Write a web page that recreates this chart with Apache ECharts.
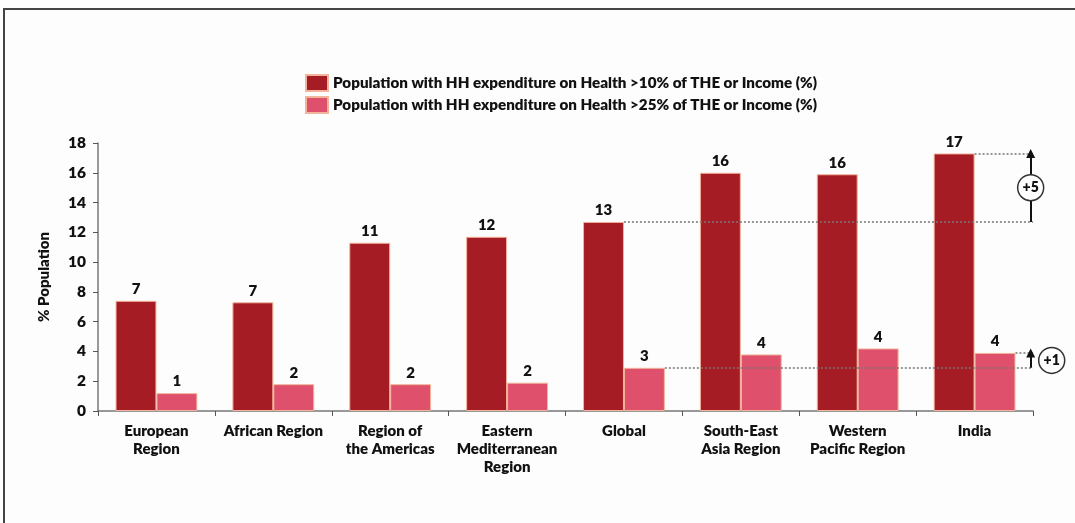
<!DOCTYPE html>
<html>
<head>
<meta charset="utf-8">
<script src="https://cdn.jsdelivr.net/npm/echarts@6/dist/echarts.min.js"></script>
<style>
  html, body { margin: 0; padding: 0; background: #fdfdfd; }
  #frame { position: absolute; left: 3px; top: 8px; width: 1072px; height: 515px;
           border-left: 2px solid #444; border-top: 2px solid #444; box-sizing: border-box; }
  #chart { position: absolute; left: 0; top: 0; width: 1075px; height: 523px; }
</style>
</head>
<body>
<div id="frame"></div>
<div id="chart"></div>
<script>
const categories = [
  'European\nRegion', 'African Region', 'Region of\nthe Americas', 'Eastern\nMediterranean\nRegion',
  'Global', 'South-East\nAsia Region', 'Western\nPacific Region', 'India'
];
const seriesNames = [
  'Population with HH expenditure on Health >10% of THE or Income (%)',
  'Population with HH expenditure on Health >25% of THE or Income (%)'
];
const above10 = [7.4, 7.3, 11.3, 11.7, 12.7, 16.0, 15.9, 17.3];
const above25 = [1.2, 1.8, 1.8, 1.9, 2.9, 3.8, 4.2, 3.9];
const yTicks = [0, 2, 4, 6, 8, 10, 12, 14, 16, 18];

const FONT = 'Lato';
const W = 800;
const gIdx = categories.indexOf('Global');
const iIdx = categories.indexOf('India');
const n = categories.length;
const half = 0.35; // bar width in category units

const diffHigh = Math.round(above10[iIdx] - above10[gIdx]);
const diffLow = Math.round(above25[iIdx] - above25[gIdx]);
const arrowX = n - 0.02;

const dotted = { type: [2, 2], color: '#777', width: 1.5 };
const solid = { type: 'solid', color: '#111', width: 2 };

function seg(x1, y1, x2, y2, style, endSym) {
  return [
    { coord: [x1, y1], symbol: 'none', lineStyle: style },
    { coord: [x2, y2], symbol: endSym || 'none' }
  ];
}

const chart = echarts.init(document.getElementById('chart'), null, { renderer: 'canvas' });
chart.setOption({
  backgroundColor: 'transparent',
  animation: false,
  textStyle: { fontFamily: FONT },
  legend: {
    orient: 'vertical', left: 300, top: 69,
    itemWidth: 22, itemHeight: 16, itemGap: 4,
    icon: 'rect',
    data: seriesNames,
    textStyle: { fontFamily: FONT, fontWeight: W, fontSize: 15.2, lineHeight: 18, color: '#111' }
  },
  grid: { left: 98, right: 42, top: 143, bottom: 112, containLabel: false },
  xAxis: [
    {
      type: 'category', data: categories,
      axisLine: { lineStyle: { color: '#777', width: 1.5 } },
      axisTick: { show: true, length: 5, lineStyle: { color: '#555' } },
      axisLabel: { interval: 0, margin: 11, fontFamily: FONT, fontWeight: W, fontSize: 15,
                   color: '#111', lineHeight: 18 }
    },
    { type: 'value', min: 0, max: n, show: false }
  ],
  yAxis: {
    type: 'value', min: yTicks[0], max: yTicks[yTicks.length - 1], interval: 2,
    name: '% Population', nameLocation: 'middle', nameGap: 46,
    nameTextStyle: { fontFamily: FONT, fontWeight: W, fontSize: 15, color: '#111' },
    axisLine: { show: true, lineStyle: { color: '#777', width: 1.5 } },
    axisTick: { show: true, length: 5, lineStyle: { color: '#555' } },
    splitLine: { show: false },
    axisLabel: { margin: 12, fontFamily: FONT, fontWeight: W, fontSize: 15.5, color: '#111' }
  },
  series: [
    {
      name: seriesNames[0], type: 'bar', data: above10,
      barGap: '0%', barCategoryGap: '30%',
      itemStyle: { color: '#a51c24', borderColor: '#f2b49a', borderWidth: 1 },
      label: { show: true, position: 'top', distance: 4, fontFamily: FONT, fontWeight: W,
               fontSize: 15, color: '#111', formatter: p => Math.round(p.value) }
    },
    {
      name: seriesNames[1], type: 'bar', data: above25,
      itemStyle: { color: '#de506c', borderColor: '#f2b49a', borderWidth: 1 },
      label: { show: true, position: 'top', distance: 4, fontFamily: FONT, fontWeight: W,
               fontSize: 15, color: '#111', formatter: p => Math.round(p.value) }
    },
    {
      name: 'annotations', type: 'scatter', xAxisIndex: 1, yAxisIndex: 0, clip: false,
      z: 5,
      data: [
        [arrowX, (above10[iIdx] + above10[gIdx]) / 2, '+' + diffHigh],
        [n + 0.16, (above25[iIdx] + above25[gIdx]) / 2, '+' + diffLow]
      ],
      symbol: 'circle', symbolSize: 26,
      itemStyle: { color: '#fff', borderColor: '#333', borderWidth: 1.5, opacity: 1 },
      label: { show: true, position: 'inside', formatter: p => p.value[2], fontFamily: FONT,
               fontWeight: W, fontSize: 14, color: '#111' },
      emphasis: { disabled: true },
      markLine: {
        silent: true, animation: false, z: 3,
        symbolSize: 9,
        label: { show: false },
        data: [
          seg(gIdx + 0.5, above10[gIdx], n, above10[gIdx], dotted),
          seg(iIdx + 0.5, above10[iIdx], n, above10[iIdx], dotted),
          seg(gIdx + 0.5 + half, above25[gIdx], n, above25[gIdx], dotted),
          seg(iIdx + 0.5 + half, above25[iIdx], n, above25[iIdx], dotted),
          seg(arrowX, above10[gIdx], arrowX, above10[iIdx], solid, 'triangle'),
          seg(arrowX, above25[gIdx], arrowX, above25[iIdx], solid, 'triangle')
        ]
      }
    }
  ]
});
</script>
</body>
</html>
